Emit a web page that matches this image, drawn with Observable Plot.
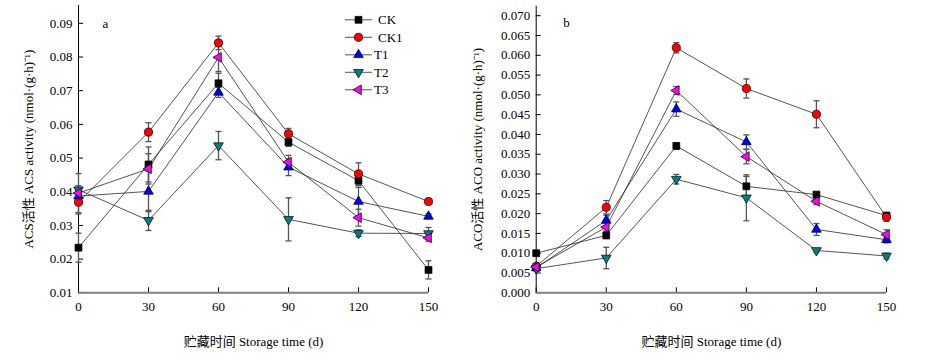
<!DOCTYPE html>
<html><head><meta charset="utf-8">
<script src="https://cdn.jsdelivr.net/npm/d3@7"></script>
<script src="https://cdn.jsdelivr.net/npm/@observablehq/plot@0.6"></script>
<style>
body{margin:0;background:#fff}
#wrap{position:relative;width:933px;height:362px;overflow:hidden}
.panel{position:absolute;top:0}
</style>
</head><body><div id="wrap"></div>
<script>
// ---------- data ----------
const days = [0, 30, 60, 90, 120, 150];
const seriesNames = ["CK", "CK1", "T1", "T2", "T3"];

// Panel a: ACS activity
const acsCK     = [0.0234, 0.0481, 0.0722, 0.0547, 0.0433, 0.0168];
const acsCKErr  = [0.0043, 0.0052, 0.0030, 0.0012, 0.0015, 0.0027];
const acsCK1    = [0.0369, 0.0577, 0.0842, 0.0572, 0.0453, 0.0371];
const acsCK1Err = [0.0035, 0.0028, 0.0020, 0.0016, 0.0033, 0.0006];
const acsT1     = [0.0387, 0.0401, 0.0695, 0.0473, 0.0371, 0.0327];
const acsT1Err  = [0.0025, 0.0060, 0.0015, 0.0025, 0.0042, 0.0007];
const acsT2     = [0.0406, 0.0315, 0.0537, 0.0318, 0.0277, 0.0276];
const acsT2Err  = [0.0012, 0.0030, 0.0042, 0.0064, 0.0010, 0.0018];
const acsT3     = [0.0396, 0.0468, 0.0799, 0.0488, 0.0323, 0.0263];
const acsT3Err  = [0.0058, 0.0045, 0.0042, 0.0020, 0.0025, 0.0010];

// Panel b: ACO activity
const acoCK     = [0.0100, 0.0145, 0.0371, 0.0269, 0.0248, 0.0195];
const acoCKErr  = [0.0004, 0.0008, 0.0008, 0.0025, 0.0005, 0.0008];
const acoCK1    = [0.0067, 0.0216, 0.0619, 0.0516, 0.0451, 0.0191];
const acoCK1Err = [0.0005, 0.0017, 0.0013, 0.0024, 0.0034, 0.0010];
const acoT1     = [0.0063, 0.0183, 0.0464, 0.0381, 0.0160, 0.0134];
const acoT1Err  = [0.0005, 0.0013, 0.0018, 0.0018, 0.0015, 0.0008];
const acoT2     = [0.0061, 0.0088, 0.0287, 0.0240, 0.0107, 0.0093];
const acoT2Err  = [0.0007, 0.0027, 0.0012, 0.0058, 0.0005, 0.0007];
const acoT3     = [0.0065, 0.0166, 0.0511, 0.0344, 0.0231, 0.0147];
const acoT3Err  = [0.0005, 0.0010, 0.0010, 0.0018, 0.0008, 0.0012];

const acsTicks = [0.01, 0.02, 0.03, 0.04, 0.05, 0.06, 0.07, 0.08, 0.09];
const acoTicks = [0.000, 0.005, 0.010, 0.015, 0.020, 0.025, 0.030, 0.035, 0.040, 0.045, 0.050, 0.055, 0.060, 0.065, 0.070];

// ---------- styles ----------
const colors = {CK: "#000000", CK1: "#ff0000", T1: "#0000ff", T2: "#008080", T3: "#ff00ff"};
const S3 = Math.sqrt(3);
const triDown = {draw(c, size) { const r = Math.sqrt(size / (S3 * 3)); c.moveTo(0, 2 * r); c.lineTo(-S3 * r, -r); c.lineTo(S3 * r, -r); c.closePath(); }};
const triLeft = {draw(c, size) { const r = Math.sqrt(size / (S3 * 3)); c.moveTo(-2 * r, 0); c.lineTo(r, -S3 * r); c.lineTo(r, S3 * r); c.closePath(); }};
const hcap = {draw(c, size) { const w = Math.sqrt(size) / 2; c.moveTo(-w, 0); c.lineTo(w, 0); }};
const symbols = {CK: d3.symbolSquare, CK1: d3.symbolCircle, T1: d3.symbolTriangle, T2: triDown, T3: triLeft};
const radii = {CK: 3.9, CK1: 4.1, T1: 3.6, T2: 3.6, T3: 3.6};
const FONT = "'Liberation Serif', 'Noto Sans CJK SC', serif";

function table(means, errs) {
  const rows = [];
  seriesNames.forEach((s, i) => days.forEach((d, j) => rows.push({series: s, day: d, value: means[i][j], err: errs[i][j]})));
  return rows;
}
const acsData = table([acsCK, acsCK1, acsT1, acsT2, acsT3], [acsCKErr, acsCK1Err, acsT1Err, acsT2Err, acsT3Err]);
const acoData = table([acoCK, acoCK1, acoT1, acoT2, acoT3], [acoCKErr, acoCK1Err, acoT1Err, acoT2Err, acoT3Err]);

function panel({data, width, ml, mr, mt, yDomain, yTicks, yFmt, yLabel, yLabelOffset, letter, letterDx, letterDy}) {
  const marks = [
    Plot.axisX({ticks: days, tickSize: -5, tickPadding: 14, tickFormat: d => String(d),
      label: "贮藏时间 Storage time (d)", labelAnchor: "center", labelOffset: 53, labelArrow: "none"}),
    Plot.axisY({ticks: yTicks, tickSize: -5, tickPadding: 11, tickFormat: yFmt,
      label: yLabel, labelAnchor: "center", labelOffset: yLabelOffset, labelArrow: "none"}),
    Plot.ruleY([yDomain[0]], {stroke: "#808080", strokeWidth: 2}),
    Plot.ruleX([0], {stroke: "#000", strokeWidth: 1}),
    Plot.line(data, {x: "day", y: "value", z: "series", stroke: "#2a2a2a", strokeWidth: 0.8})
  ];
  for (const s of seriesNames) {
    const sub = data.filter(d => d.series === s);
    marks.push(Plot.ruleX(sub, {x: "day", y1: d => d.value - d.err, y2: d => d.value + d.err, stroke: "#555", strokeWidth: 1.3}));
    marks.push(Plot.dot(sub, {x: "day", y: d => d.value - d.err, symbol: hcap, r: 3.4, fill: "none", stroke: "#555", strokeWidth: 1.3}));
    marks.push(Plot.dot(sub, {x: "day", y: d => d.value + d.err, symbol: hcap, r: 3.4, fill: "none", stroke: "#555", strokeWidth: 1.3}));
  }
  for (const s of seriesNames) {
    const sub = data.filter(d => d.series === s);
    marks.push(Plot.dot(sub, {x: "day", y: "value", symbol: symbols[s], r: radii[s], fill: colors[s], stroke: "#000", strokeWidth: 0.7}));
  }
  marks.push(Plot.text([letter], {frameAnchor: "top-left", dx: letterDx, dy: letterDy, textAnchor: "start", lineAnchor: "middle", fontSize: 13, fill: "#000"}));
  return Plot.plot({
    width, height: 362,
    marginLeft: ml, marginRight: mr, marginTop: mt, marginBottom: 69.7,
    style: {fontFamily: FONT, fontSize: "13px", color: "#000", background: "#fff", overflow: "visible"},
    x: {domain: [0, 150]},
    y: {domain: yDomain},
    marks
  });
}

const wrap = document.getElementById("wrap");
const a = panel({data: acsData, width: 470, ml: 78, mr: 42, mt: 5, yDomain: [0.01, 0.0953], yTicks: acsTicks,
  yFmt: d3.format(".2f"), yLabel: "ACS活性 ACS activity (nmol·(g·h)⁻¹)", yLabelOffset: 55, letter: "a", letterDx: 24, letterDy: 18});
a.classList.add("panel"); a.style.left = "0px";
wrap.appendChild(a);
const b = panel({data: acoData, width: 463, ml: 65.7, mr: 47, mt: 5.7, yDomain: [0, 0.0724], yTicks: acoTicks,
  yFmt: d3.format(".3f"), yLabel: "ACO活性 ACO activity (nmol·(g·h)⁻¹)", yLabelOffset: 63, letter: "b", letterDx: 27, letterDy: 17});
b.classList.add("panel"); b.style.left = "470px";
wrap.appendChild(b);

// ---------- legend (panel a) ----------
const leg = d3.select(wrap).append("svg").attr("class", "panel").style("left", "0px")
  .attr("width", 470).attr("height", 110).style("font-family", FONT).style("font-size", "13px");
const legTextX = {CK: 378, CK1: 378, T1: 374, T2: 374, T3: 374};
seriesNames.forEach((s, i) => {
  const y = 19.8 + i * 17.5;
  const g = leg.append("g");
  g.append("line").attr("x1", 345).attr("x2", 372).attr("y1", y).attr("y2", y).attr("stroke", "#2a2a2a").attr("stroke-width", 0.8);
  g.append("path").attr("transform", `translate(358.5,${y})`)
    .attr("d", d3.symbol().type(symbols[s]).size(Math.PI * radii[s] * radii[s])())
    .attr("fill", colors[s]).attr("stroke", "#000").attr("stroke-width", 0.7);
  g.append("text").attr("x", legTextX[s]).attr("y", y).attr("dy", "0.35em").text(s);
});
</script>
</body></html>
